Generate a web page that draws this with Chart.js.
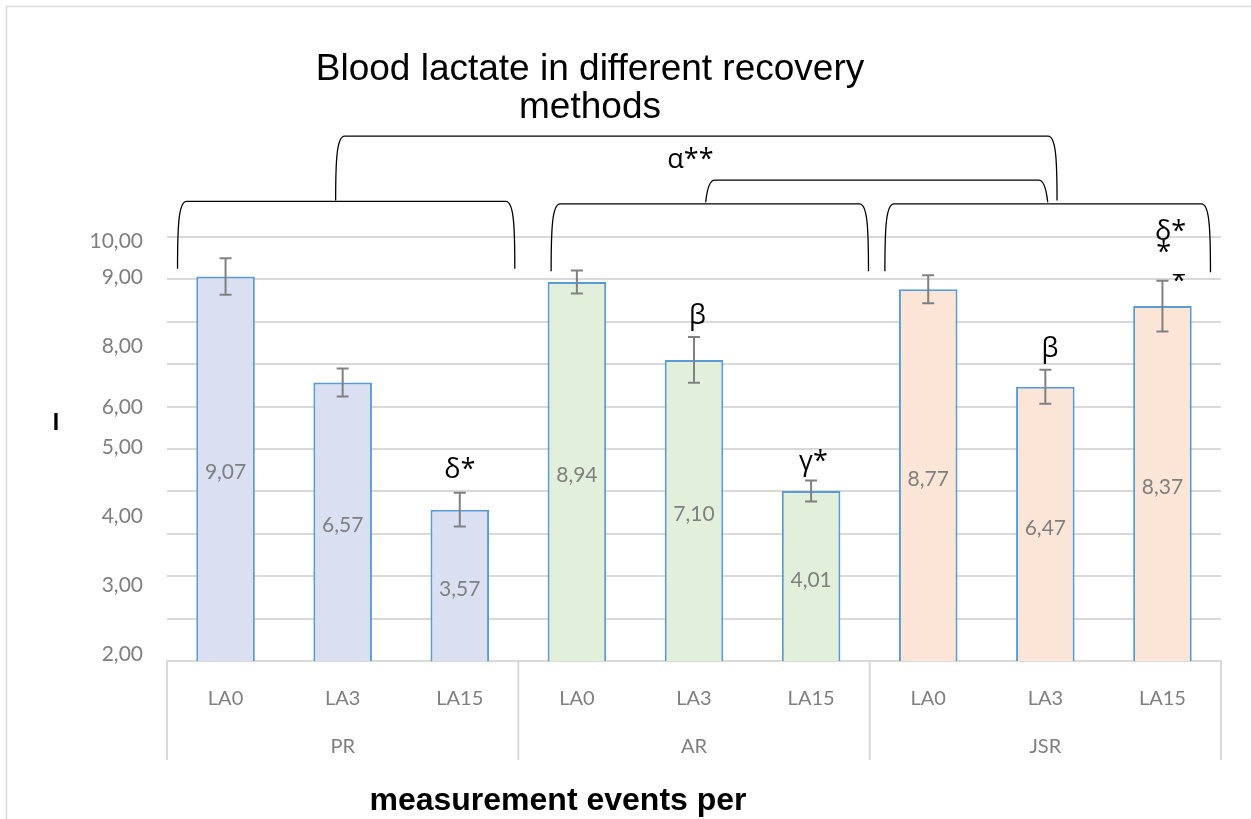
<!DOCTYPE html>
<html>
<head>
<meta charset="utf-8">
<script src="https://cdn.jsdelivr.net/npm/chart.js@4.4.1/dist/chart.umd.min.js"></script>
<style>
  html, body { margin: 0; padding: 0; background: #fff; }
  #wrap { width: 1251px; height: 819px; }
</style>
</head>
<body>
<div id="wrap"><canvas id="chart" width="1251" height="819"></canvas></div>
<script>
const categories = ['LA0', 'LA3', 'LA15', 'LA0', 'LA3', 'LA15', 'LA0', 'LA3', 'LA15'];
const groups = ['PR', 'AR', 'JSR'];
const values = [9.07, 6.57, 3.57, 8.94, 7.10, 4.01, 8.77, 6.47, 8.37];
const errors = [0.43, 0.33, 0.40, 0.27, 0.54, 0.25, 0.33, 0.40, 0.60];
const groupFills = ['#dae0f2', '#e2efda', '#fbe5d6'];

// the y labels sit where the original figure put them, not on the gridlines
const yTickValues = [0.16, 1.79, 3.42, 5.05, 5.98, 7.42, 9.06, 9.9];
const yTickLabels = ['2,00', '3,00', '4,00', '5,00', '6,00', '8,00', '9,00', '10,00'];

// significance brackets: [from category, to category, top value, left foot, right foot]
const brackets = [
  [-0.41, 2.47, 10.84, 9.25, 9.25],
  [2.78, 5.49, 10.78, 9.19, 9.19],
  [5.63, 8.41, 10.78, 9.19, 9.17],
  [0.94, 7.10, 12.38, 10.86, 10.86],
  [4.10, 7.02, 11.34, 10.84, 10.84]
];
// significance marks: [category, value, text]
const marks = [
  [3.97, 11.82, 'α**'],
  [4.03, 8.12, 'β'],
  [2.0, 4.50, 'δ*'],
  [5.02, 4.69, 'γ*'],
  [7.04, 7.36, 'β'],
  [8.07, 10.11, 'δ*'],
  [8.01, 9.62, '*']
];

const GRID = '#d9d9d9';
const LABEL = '#7f7f7f';
const LABEL_FONT = 'Lato, "Open Sans", sans-serif';

function comma(v) {
  return v.toFixed(2).replace('.', ',');
}

const decor = {
  id: 'decor',
  beforeDraw(chart) {
    const { ctx, width, height } = chart;
    ctx.save();
    ctx.fillStyle = '#fff';
    ctx.fillRect(0, 0, width, height);
    ctx.strokeStyle = GRID;
    ctx.lineWidth = 1.5;
    ctx.strokeRect(6.5, 6.5, width + 10, height + 10);
    ctx.restore();
  },
  afterDatasetsDraw(chart) {
    const { ctx } = chart;
    const y = chart.scales.y;
    const bars = chart.getDatasetMeta(0).data;
    ctx.save();
    // data labels in the middle of each bar
    ctx.font = `21px ${LABEL_FONT}`;
    ctx.fillStyle = LABEL;
    ctx.textAlign = 'center';
    ctx.textBaseline = 'middle';
    bars.forEach((bar, i) => {
      ctx.fillText(comma(values[i]), bar.x, (bar.y + bar.base) / 2 + 4);
    });
    // error bars
    ctx.strokeStyle = '#808080';
    ctx.lineWidth = 2;
    bars.forEach((bar, i) => {
      const top = y.getPixelForValue(values[i] + errors[i]);
      const bot = y.getPixelForValue(values[i] - errors[i]);
      ctx.beginPath();
      ctx.moveTo(bar.x, top);
      ctx.lineTo(bar.x, bot);
      ctx.moveTo(bar.x - 6, top);
      ctx.lineTo(bar.x + 6, top);
      ctx.moveTo(bar.x - 6, bot);
      ctx.lineTo(bar.x + 6, bot);
      ctx.stroke();
    });
    ctx.restore();
  },
  afterDraw(chart) {
    const { ctx, chartArea } = chart;
    const x = chart.scales.x;
    const y = chart.scales.y;
    ctx.save();

    // group row under the category labels
    const bounds = [chartArea.left];
    for (let g = 1; g < groups.length; g++) {
      bounds.push((x.getPixelForValue(g * 3 - 1) + x.getPixelForValue(g * 3)) / 2);
    }
    bounds.push(chartArea.right);
    ctx.strokeStyle = GRID;
    ctx.lineWidth = 2;
    bounds.forEach((bx) => {
      ctx.beginPath();
      ctx.moveTo(bx, chartArea.bottom);
      ctx.lineTo(bx, 760);
      ctx.stroke();
    });
    ctx.font = `20px ${LABEL_FONT}`;
    ctx.fillStyle = LABEL;
    ctx.textAlign = 'center';
    ctx.textBaseline = 'middle';
    groups.forEach((g, i) => {
      ctx.fillText(g, x.getPixelForValue(i * 3 + 1), 747);
    });

    // brackets
    ctx.strokeStyle = '#000';
    ctx.lineWidth = 1.3;
    brackets.forEach(([c1, c2, top, footL, footR]) => {
      const x1 = x.getPixelForValue(c1);
      const x2 = x.getPixelForValue(c2);
      const yt = y.getPixelForValue(top);
      const yl = y.getPixelForValue(footL);
      const yr = y.getPixelForValue(footR);
      ctx.beginPath();
      ctx.moveTo(x1, yl);
      ctx.bezierCurveTo(x1, yt + 25, x1 + 1, yt, x1 + 9, yt);
      ctx.lineTo(x2 - 9, yt);
      ctx.bezierCurveTo(x2 - 1, yt, x2, yt + 25, x2, yr);
      ctx.stroke();
    });

    // significance marks
    ctx.fillStyle = '#000';
    ctx.font = '27px "Open Sans", "DejaVu Sans", sans-serif';
    marks.forEach(([c, v, t]) => {
      ctx.fillText(t, x.getPixelForValue(c), y.getPixelForValue(v));
    });
    // a half-hidden asterisk next to the last error bar
    const ax = x.getPixelForValue(8.14);
    const ay = y.getPixelForValue(8.94);
    ctx.save();
    ctx.beginPath();
    ctx.rect(ax - 12, ay - 8, 24, 12);
    ctx.clip();
    ctx.fillText('*', ax, ay);
    ctx.restore();

    // titles
    ctx.font = '37px "Liberation Sans", Arial, sans-serif';
    ctx.fillText('Blood lactate in different recovery', 590, 70);
    ctx.fillText('methods', 590, 108);
    ctx.font = 'bold 32px "Liberation Sans", Arial, sans-serif';
    ctx.fillText('measurement events per', 558, 801);
    ctx.font = 'bold 23px "Liberation Sans", Arial, sans-serif';
    ctx.fillText('I', 56, 424);
    ctx.restore();
  }
};

new Chart(document.getElementById('chart'), {
  type: 'bar',
  data: {
    labels: categories,
    datasets: [{
      data: values,
      backgroundColor: values.map((v, i) => groupFills[Math.floor(i / 3)]),
      borderColor: '#5b9bd5',
      borderWidth: 2,
      categoryPercentage: 1,
      barPercentage: 0.5
    }]
  },
  options: {
    responsive: false,
    animation: false,
    devicePixelRatio: 1,
    layout: { padding: { top: 237, right: 30, bottom: 0, left: 0 } },
    plugins: {
      legend: { display: false },
      title: { display: false },
      tooltip: { enabled: false }
    },
    scales: {
      x: {
        grid: { display: false },
        border: { display: true, color: GRID, width: 2 },
        ticks: { color: LABEL, font: { family: LABEL_FONT, size: 20 }, padding: 18, maxRotation: 0, autoSkip: false },
        afterFit(axis) { axis.height = 158; }
      },
      yl: {
        position: 'left',
        min: 0,
        max: 10,
        grid: { display: false, drawTicks: false },
        border: { display: false },
        afterBuildTicks(axis) { axis.ticks = yTickValues.map((v) => ({ value: v })); },
        ticks: {
          autoSkip: false,
          color: LABEL,
          padding: 24,
          font: { family: LABEL_FONT, size: 21 },
          callback(value, index) { return yTickLabels[index]; }
        },
        afterFit(axis) { axis.width = 167; }
      },
      y: {
        position: 'left',
        min: 0,
        max: 10,
        grid: { color: GRID, lineWidth: 2, drawTicks: false },
        border: { display: false },
        ticks: { stepSize: 1, display: false },
        afterFit(axis) { axis.width = 0; }
      }
    }
  },
  plugins: [decor]
});
</script>
</body>
</html>
